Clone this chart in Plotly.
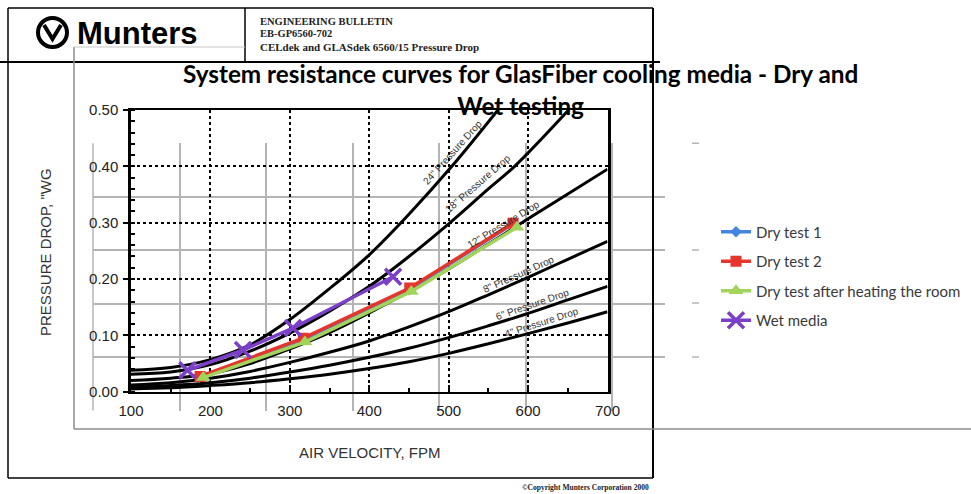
import plotly.graph_objects as go

W, H = 971, 494

# ---------------- data ----------------
velocity_ticks = [100, 200, 300, 400, 500, 600, 700]

# background pressure-drop curves (scanned chart)
curve_names = ['24" Pressure Drop', '18" Pressure Drop', '12" Pressure Drop',
               '8" Pressure Drop', '6" Pressure Drop', '4" Pressure Drop']
c24_x = [100, 150, 200, 250, 300, 350, 400, 450, 504, 562]
c24_y = [0.038, 0.043, 0.057, 0.083, 0.128, 0.183, 0.243, 0.315, 0.40, 0.50]
c18_x = [100, 150, 200, 250, 300, 350, 400, 450, 500, 550, 583, 651]
c18_y = [0.031, 0.035, 0.048, 0.072, 0.104, 0.143, 0.187, 0.240, 0.298, 0.360, 0.40, 0.50]
c12_x = [100, 150, 200, 250, 300, 350, 400, 450, 500, 550, 600, 650, 700]
c12_y = [0.020, 0.024, 0.032, 0.050, 0.076, 0.105, 0.140, 0.178, 0.218, 0.262, 0.307, 0.351, 0.395]
c8_x = [100, 150, 200, 250, 300, 350, 400, 450, 500, 550, 600, 650, 700]
c8_y = [0.012, 0.016, 0.024, 0.036, 0.052, 0.070, 0.090, 0.115, 0.142, 0.172, 0.203, 0.235, 0.267]
c6_x = [100, 150, 200, 250, 300, 350, 400, 450, 500, 550, 600, 650, 700]
c6_y = [0.008, 0.011, 0.016, 0.024, 0.035, 0.047, 0.061, 0.077, 0.096, 0.117, 0.139, 0.163, 0.187]
c4_x = [100, 150, 200, 250, 300, 350, 400, 450, 500, 550, 600, 650, 700]
c4_y = [0.005, 0.007, 0.011, 0.016, 0.023, 0.031, 0.041, 0.053, 0.068, 0.085, 0.103, 0.122, 0.142]

# measured series
series_names = ["Dry test 1", "Dry test 2", "Dry test after heating the room", "Wet media"]
dry1_x = [186, 316, 450, 580]
dry1_y = [0.026, 0.092, 0.181, 0.297]
dry2_x = [187, 317, 451, 581]
dry2_y = [0.027, 0.095, 0.184, 0.299]
heat_x = [191, 319, 453, 586]
heat_y = [0.025, 0.088, 0.178, 0.292]
wet_x = [171, 241, 304, 430]
wet_y = [0.038, 0.074, 0.113, 0.204]

title_text = "System resistance curves for GlasFiber cooling media - Dry and<br>Wet testing"

# ---------------- helpers (pixel -> paper) ----------------
def fx(px):
    return px / W

def fy(py):
    return 1 - py / H

fig = go.Figure()

# Excel-chart grid subplot (x / y) : only gridlines
fig.add_trace(go.Scatter(x=[None], y=[None], xaxis="x", yaxis="y",
                         showlegend=False, hoverinfo="skip"))

# scanned chart curves (x2 / y2)
curve_data = [(c24_x, c24_y), (c18_x, c18_y), (c12_x, c12_y),
              (c8_x, c8_y), (c6_x, c6_y), (c4_x, c4_y)]
for name, (cx, cy) in zip(curve_names, curve_data):
    fig.add_trace(go.Scatter(x=cx, y=cy, mode="lines", name=name,
                             line=dict(color="black", width=3, shape="spline", smoothing=1.0),
                             xaxis="x2", yaxis="y2", showlegend=False, hoverinfo="skip"))

colors = ["#4585E0", "#E5352C", "#A2D35A", "#7B3FC8"]
symbols = ["diamond", "square", "triangle-up", "x-thin"]
sizes = [9, 11, 13, 16]
sdata = [(dry1_x, dry1_y), (dry2_x, dry2_y), (heat_x, heat_y), (wet_x, wet_y)]
for i, (name, (sx, sy)) in enumerate(zip(series_names, sdata)):
    mk = dict(color=colors[i], symbol=symbols[i], size=sizes[i])
    if symbols[i] == "x-thin":
        mk["line"] = dict(color=colors[i], width=3.5)
    fig.add_trace(go.Scatter(x=sx, y=sy, mode="lines+markers", name=name,
                             line=dict(color=colors[i], width=3.5),
                             marker=mk, xaxis="x2", yaxis="y2",
                             legendgroup=f"g{i}"))

grid_gray = "#B4B4B4"
scan_font = dict(family="Liberation Sans, Arial", size=15, color="#222222")

fig.update_layout(
    template="none",
    width=W, height=H, autosize=False,
    margin=dict(l=0, r=0, t=0, b=0, pad=0, autoexpand=False),
    paper_bgcolor="white",
    plot_bgcolor="rgba(0,0,0,0)",
    showlegend=True,
    legend=dict(x=fx(716), y=fy(215.5), xanchor="left", yanchor="top",
                font=dict(family="Lato, Open Sans", size=15, color="#3a3a3a"),
                tracegroupgap=7, bgcolor="rgba(0,0,0,0)", borderwidth=0,
                traceorder="grouped"),
    xaxis=dict(domain=[fx(93), fx(665)], range=[0, 572 / 86.5], dtick=1, tick0=0,
               showgrid=True, gridcolor=grid_gray, gridwidth=1.5,
               showticklabels=False, zeroline=False, showline=False, ticks="",
               anchor="y", fixedrange=True, automargin=False),
    yaxis=dict(domain=[fy(410.5), fy(143.3)], range=[0, 5], dtick=1, tick0=0,
               showgrid=True, gridcolor=grid_gray, gridwidth=1.5,
               showticklabels=False, zeroline=False, showline=False, ticks="",
               anchor="x", fixedrange=True, automargin=False),
    xaxis2=dict(domain=[fx(131), fx(607.5)], range=[100, 700],
                tickvals=velocity_ticks, showgrid=True, gridcolor="black",
                griddash="dot", gridwidth=1.5, showline=True, linecolor="black",
                linewidth=2, mirror=True, ticks="inside", ticklen=7, tickwidth=1.5,
                tickcolor="black", minor=dict(dtick=50, tick0=100, ticks="inside", ticklen=4,
                                              tickcolor="black", showgrid=False),
                tickfont=scan_font, zeroline=False, anchor="y2", ticklabelstandoff=4,
                automargin=False),
    yaxis2=dict(domain=[fy(391.7), fy(110)], range=[0, 0.5], dtick=0.1, tick0=0,
                tickformat=".2f", showgrid=True, gridcolor="black", griddash="dot",
                gridwidth=1.5, showline=True, linecolor="black", linewidth=2.5,
                mirror=True, ticks="outside", ticklen=5, tickwidth=1.5, tickcolor="black",
                minor=dict(dtick=0.02, ticks="inside", ticklen=4, tickcolor="black",
                           showgrid=False),
                tickfont=scan_font, zeroline=False, anchor="x2", ticklabelstandoff=2,
                automargin=False),
)

shapes = []
def line(x0, y0, x1, y1, color="black", width=1.5, layer="above"):
    shapes.append(dict(type="line", xref="paper", yref="paper", layer=layer,
                       x0=fx(x0), y0=fy(y0), x1=fx(x1), y1=fy(y1),
                       line=dict(color=color, width=width)))

# scanned document frame
line(8, 8, 653, 8, width=1.5)
line(8, 8, 8, 478, width=1.5)
line(653, 8, 653, 478, width=2)
line(8, 478, 653, 478, width=1.5)
line(245, 8, 245, 62, width=1.5)
line(0, 62, 660, 62, width=2)
# excel chart frame
line(74, 47, 74, 429, color="#8C8C8C", width=1.5)
line(74, 47, 245, 47, color="#C8C8C8", width=1.2)
line(74, 429, 971, 429, color="#8C8C8C", width=1.5)
# excel plot-area left edge and stray gridline stubs
line(93, 143.3, 93, 410.5, color=grid_gray, width=1.5, layer="below")
for yy in (143.3, 250, 303, 357):
    line(692, yy, 699, yy, color=grid_gray, width=1.5)
# logo
shapes.append(dict(type="circle", xref="paper", yref="paper",
                   x0=fx(38), x1=fx(67), y0=fy(47), y1=fy(18),
                   line=dict(color="black", width=4)))
shapes.append(dict(type="path", xref="paper", yref="paper",
                   path=f"M {fx(44)} {fy(25)} L {fx(52.5)} {fy(39)} L {fx(61)} {fy(25)}",
                   line=dict(color="black", width=4)))
fig.update_layout(shapes=shapes)

ann = []
def text(x, y, s, size, family="Liberation Sans, Arial", color="#222222",
         xanchor="center", yanchor="middle", angle=0):
    ann.append(dict(x=fx(x), y=fy(y), xref="paper", yref="paper", text=s,
                    showarrow=False, xanchor=xanchor, yanchor=yanchor,
                    textangle=angle, font=dict(family=family, size=size, color=color)))

text(75, 33, "<b>Munters</b>", 31, family="Liberation Sans, Arial", color="black", xanchor="left")
text(258, 22, "<b>ENGINEERING BULLETIN</b>", 10.5, family="Liberation Serif", xanchor="left")
text(258, 34, "<b>EB-GP6560-702</b>", 10.5, family="Liberation Serif", xanchor="left")
text(258, 47, "<b>CELdek and GLASdek 6560/15 Pressure Drop</b>", 11, family="Liberation Serif", xanchor="left")
text(651, 487, "<b>©Copyright Munters Corporation 2000</b>", 7.5, family="Liberation Serif", xanchor="right")

text(520, 89.5, "<b>" + title_text + "</b>", 24.3, family="Lato, Open Sans", color="black")

text(45, 252, 'PRESSURE DROP, "WG', 15, angle=-90, color="#333333")
text(369, 452, "AIR VELOCITY, FPM", 15, color="#333333")

# curve labels
lab_pos = [(452, 152, -48), (478, 184, -41), (503, 224, -31),
           (518, 274, -24), (532, 304, -19), (541, 322, -18)]
for name, (lx, ly, la) in zip(curve_names, lab_pos):
    text(lx, ly, name, 10, color="#333333", angle=la)

fig.update_layout(annotations=ann)

fig.write_html("out.html")
